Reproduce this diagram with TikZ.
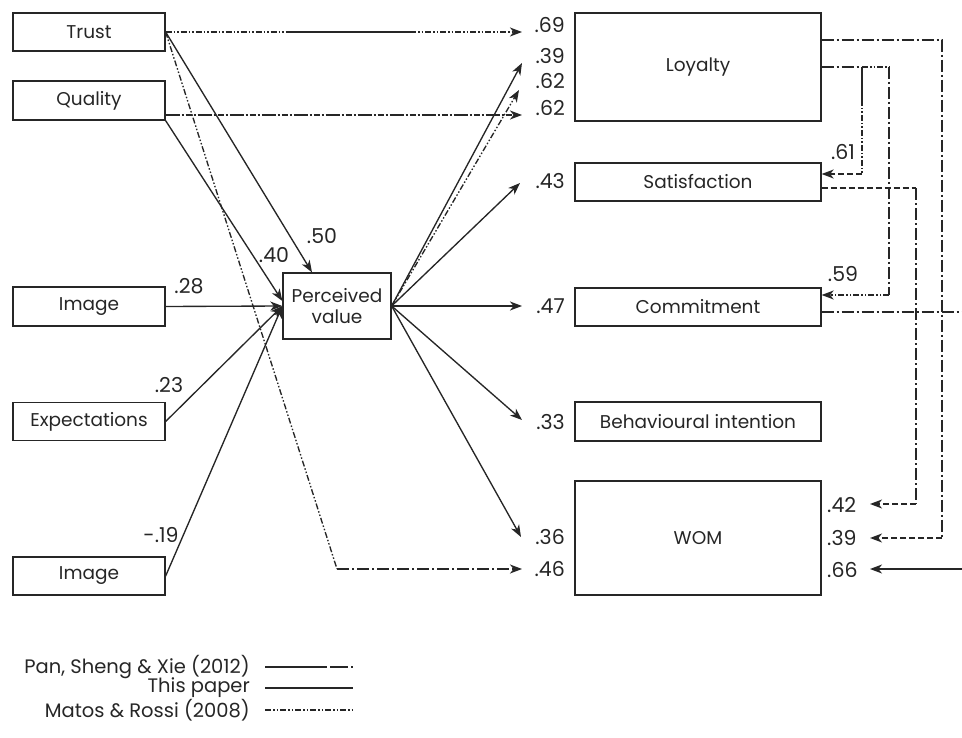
\documentclass[tikz,border=0pt]{standalone}
\usepackage{fontspec}
\setmainfont{Poppins}
\usetikzlibrary{arrows.meta,calc}
\begin{document}
\begin{tikzpicture}[x=1pt,y=-1pt,
  box/.style={draw=black!85,line width=1.3pt,rectangle,inner sep=0pt,
    font=\fontsize{18.5}{21}\selectfont,text=black!85,align=center},
  coef/.style={inner sep=0pt,font=\fontsize{20.5}{22}\selectfont,text=black!85},
  legtext/.style={inner sep=0pt,font=\fontsize{19.5}{21}\selectfont,text=black!85,anchor=east},
  conn/.style={line width=1.35pt,draw=black!85},
  tip/.style={-{Stealth[length=12pt,width=9pt,inset=3.5pt]}},
  solidline/.style={conn},
  panline/.style={conn,dash pattern=on 12pt off 3pt on 2pt off 3pt},
  matosline/.style={conn,dash pattern=on 6pt off 2pt on 1.5pt off 2pt on 1.5pt off 2pt},
  mixline/.style={conn,dash pattern=on 14pt off 2pt on 2pt off 2pt on 6pt off 2pt on 2pt off 2pt},
  dashline/.style={conn,dash pattern=on 6pt off 3pt},
]
\useasboundingbox (0,0) rectangle (962,738);

% ---- antecedents
\node[box,minimum width=152pt,minimum height=38pt] (trust) at (89,32) {Trust};
\node[box,minimum width=152pt,minimum height=39pt] (quality) at (89,100.5) {Quality};
\node[box,minimum width=152pt,minimum height=39pt] (imgA) at (89,306.5) {Image};
\node[box,minimum width=152pt,minimum height=38pt] (expect) at (89,421.5) {Expectations};
\node[box,minimum width=152pt,minimum height=38pt] (imgB) at (89,576) {Image};

% ---- mediator
\node[box,minimum width=108pt,minimum height=66pt] (pv) at (337,306) {Perceived\\value};

% ---- outcomes
\node[box,minimum width=246pt,minimum height=108pt] (loyal) at (698,67) {Loyalty};
\node[box,minimum width=246pt,minimum height=38pt] (satis) at (698,182) {Satisfaction};
\node[box,minimum width=246pt,minimum height=38pt] (commit) at (698,307) {Commitment};
\node[box,minimum width=246pt,minimum height=39pt] (behav) at (698,421.5) {Behavioural intention};
\node[box,minimum width=246pt,minimum height=114pt] (wom) at (698,538) {WOM};

% ---- coefficients in front of the outcome boxes
\node[coef,anchor=east] (l69) at (565,25) {.69};
\node[coef,anchor=east] (l39) at (565,56) {.39};
\node[coef,anchor=east] (l62a) at (565,81) {.62};
\node[coef,anchor=east] (l62b) at (565,108) {.62};
\node[coef,anchor=east] (l43) at (565,181) {.43};
\node[coef,anchor=east] (l47) at (565,306) {.47};
\node[coef,anchor=east] (l33) at (565,422) {.33};
\node[coef,anchor=east] (l36) at (565,537) {.36};
\node[coef,anchor=east] (l46) at (565,569) {.46};
\node[coef,anchor=west] (l42) at (827,505) {.42};
\node[coef,anchor=west] (l39b) at (827,538) {.39};
\node[coef,anchor=west] (l66) at (827,570) {.66};
\node[coef] (l61) at (843,152) {.61};
\node[coef] (l59) at (843,274) {.59};

% ---- coefficients on the paths into perceived value
\node[coef] (c28) at (189,286) {.28};
\node[coef] (c23) at (169,385) {.23};
\node[coef] (c19) at (161,535) {-.19};
\node[coef] (c40) at (274,255) {.40};
\node[coef] (c50) at (322,236) {.50};

% ---- arrow ends
\coordinate (t69) at (522,32);
\coordinate (t39) at (522,63);
\coordinate (t62a) at (519,90);
\coordinate (t62b) at (522,115);
\coordinate (t43) at (520,183);
\coordinate (t47) at (522,306);
\coordinate (t33) at (522,420);
\coordinate (t36) at (521,537);
\coordinate (t46) at (522,569);
\coordinate (t42) at (870,504);
\coordinate (t39b) at (870,538);
\coordinate (t66) at (870,569);

% ---- paths from trust and quality
\coordinate (tr1) at (290,32);
\coordinate (tr2) at (410,32);
\draw[matosline] (trust.east) -- (tr1);
\draw[solidline] (tr1) -- (tr2);
\draw[matosline,tip] (tr2) -- (t69);
\draw[solidline,tip] (trust.east) -- ([xshift=-25pt]pv.north);
\coordinate (c46) at (337,569);
\draw[matosline] (trust.east) -- (c46);
\draw[panline,tip] (c46) -- (t46);
\draw[mixline,tip] (quality.east |- t62b) -- (t62b);
\draw[solidline,tip] (quality.south east) -- ([yshift=5pt]pv.west);

% ---- other antecedents into perceived value
\draw[solidline,tip] (imgA.east) -- (pv.west);
\draw[solidline,tip] (expect.east) -- (pv.west);
\draw[solidline,tip] (imgB.east) -- (pv.west);

% ---- perceived value to outcomes
\draw[solidline,tip] (pv.east) -- (t39);
\draw[matosline,tip] (pv.east) -- (t62a);
\draw[solidline,tip] (pv.east) -- (t43);
\draw[solidline,tip] (pv.east) -- (t47);
\draw[solidline,tip] (pv.east) -- (t33);
\draw[solidline,tip] (pv.east) -- (t36);

% ---- loyalty to WOM
\coordinate (r1a) at (942,40);
\coordinate (r1b) at (942,538);
\draw[panline] (loyal.east |- r1a) -- (r1a) -- (r1b);
\draw[dashline,tip] (r1b) -- (t39b);

% ---- loyalty to satisfaction and commitment
\coordinate (r2a) at (862,67);
\coordinate (r2m) at (862,100);
\coordinate (r2b) at (862,174);
\draw[panline] (loyal.east |- r2a) -- (r2a);
\draw[solidline] (r2a) -- (r2m);
\draw[matosline] (r2m) -- (r2b);
\draw[dashline,tip] (r2b) -- (satis.east |- r2b);
\coordinate (r3a) at (889,67);
\coordinate (r3b) at (889,295);
\draw[matosline] (r2a) -- (r3a);
\draw[panline] (r3a) -- (r3b);
\draw[matosline,tip] (r3b) -- (commit.east |- r3b);

% ---- satisfaction to WOM
\coordinate (r4a) at (916,188);
\coordinate (r4b) at (916,504);
\draw[dashline] (satis.east |- r4a) -- (r4a);
\draw[panline] (r4a) -- (r4b);
\draw[dashline,tip] (r4b) -- (t42);

% ---- commitment to WOM (runs past the right edge)
\coordinate (r5) at (962,312);
\draw[panline] (commit.east |- r5) -- (r5);
\coordinate (r6) at (962,569);
\draw[solidline,tip] (r6) -- (t66);

% ---- legend
\node[legtext] (lgpan) at (250,667) {Pan, Sheng \& Xie (2012)};
\node[legtext] (lgthis) at (250,688) {This paper};
\node[legtext] (lgmatos) at (250,710) {Matos \& Rossi (2008)};
\draw[conn,dash pattern=on 62pt off 3pt on 18pt off 3pt on 2pt off 50pt]
  ([xshift=15pt]lgpan.east) -- ++(88,0);
\draw[solidline] ([xshift=15pt]lgthis.east) -- ++(88,0);
\draw[matosline] ([xshift=15pt]lgmatos.east) -- ++(88,0);
\end{tikzpicture}
\end{document}
